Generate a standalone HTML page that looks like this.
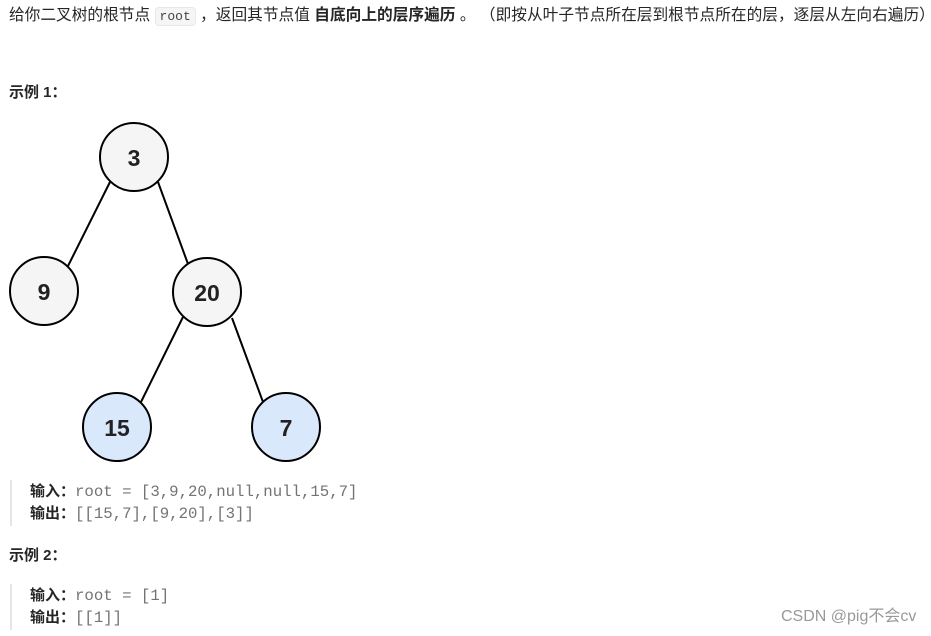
<!DOCTYPE html>
<html><head><meta charset="utf-8"><style>
body{margin:0;width:931px;height:636px;background:#fff;position:relative;overflow:hidden;font-family:"Liberation Sans","Noto Sans CJK SC",sans-serif;color:#262626}
.a{position:absolute;white-space:nowrap;font-size:15px;line-height:20px}
code{font-family:"Liberation Mono",monospace;font-size:13px;background:#f5f5f5;border:1px solid #e8e8e8;border-radius:4px;padding:1px 4px;color:#444}
.m{font-family:"Liberation Mono",monospace;color:#737373;font-size:15.7px}
.bar{position:absolute;left:10px;width:2px;background:#e5e5e5}
b{font-weight:bold}
</style></head><body>
<div class="a" style="left:9px;top:6px;font-size:15.7px">给你二叉树的根节点 <code>root</code> ，返回其节点值 <b>自底向上的层序遍历</b> 。 （即按从叶子节点所在层到根节点所在的层，逐层从左向右遍历）</div>
<div class="a" style="left:9px;top:83px;font-weight:bold">示例 1：</div>
<svg style="position:absolute;left:0;top:0" width="931" height="636">
<g stroke="#000" stroke-width="2">
<line x1="110" y1="182" x2="68" y2="266"/><line x1="158" y1="182" x2="188" y2="264"/>
<line x1="183" y1="317" x2="141" y2="402"/><line x1="232" y1="318" x2="263" y2="402"/>
<g fill="#f5f5f5"><circle cx="134" cy="157" r="34"/><circle cx="44" cy="291" r="34"/><circle cx="207" cy="292" r="34"/></g>
<g fill="#dae8fc"><circle cx="117" cy="427" r="34"/><circle cx="286" cy="427" r="34"/></g>
</g>
<g font-family="Liberation Sans,sans-serif" font-weight="bold" font-size="23" text-anchor="middle" fill="#222">
<text x="134" y="166">3</text><text x="44" y="300">9</text><text x="207" y="301">20</text><text x="117" y="436">15</text><text x="286" y="436">7</text>
</g></svg>
<div class="bar" style="top:480px;height:46px"></div>
<div class="a" style="left:30px;top:482px"><b>输入：</b><span class="m">root = [3,9,20,null,null,15,7]</span></div>
<div class="a" style="left:30px;top:504px"><b>输出：</b><span class="m">[[15,7],[9,20],[3]]</span></div>
<div class="a" style="left:9px;top:546px;font-weight:bold">示例 2：</div>
<div class="bar" style="top:584px;height:46px"></div>
<div class="a" style="left:30px;top:586px"><b>输入：</b><span class="m">root = [1]</span></div>
<div class="a" style="left:30px;top:608px"><b>输出：</b><span class="m">[[1]]</span></div>
<div class="a" style="left:781px;top:607px;color:#999;font-size:16px">CSDN @pig不会cv</div>
</body></html>
